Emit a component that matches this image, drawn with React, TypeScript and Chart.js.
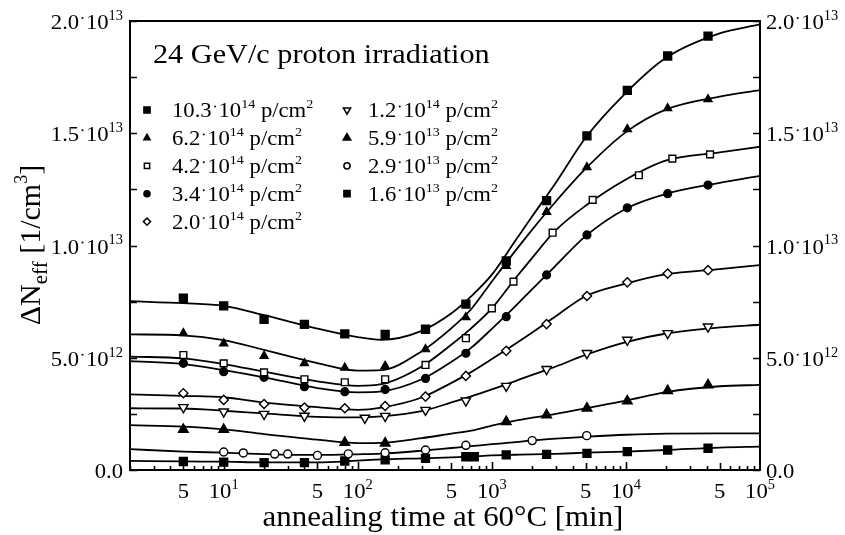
import React, { useEffect, useRef } from 'react';
import { Chart, registerables } from 'chart.js';
import { drawPoint } from 'chart.js/helpers';

Chart.register(...registerables);

// ---------------- data ----------------
// annealing time in minutes, ΔNeff in units of 10^12 cm^-3
const FIT_TIMES = [2, 5, 10, 20, 50, 100, 150, 300, 500, 700, 1000, 1500, 2000, 3000, 5000, 10000, 20000, 50000, 100000];

const FIT_103E14 = [7.52, 7.43, 7.31, 6.9, 6.3, 5.92, 5.8, 6.2, 6.98, 7.73, 8.7, 10.22, 11.3, 12.8, 14.8, 16.8, 18.37, 19.45, 19.85];
const FIT_62E14 = [6.04, 6.0, 5.79, 5.35, 4.76, 4.43, 4.45, 5.29, 6.32, 7.16, 8.4, 9.77, 10.71, 11.96, 13.42, 15.05, 16.06, 16.63, 16.92];
const FIT_42E14 = [5.05, 4.97, 4.72, 4.38, 3.95, 3.75, 3.82, 4.61, 5.59, 6.31, 7.2, 8.54, 9.45, 10.68, 11.77, 12.94, 13.79, 14.15, 14.4];
const FIT_34E14 = [4.85, 4.72, 4.45, 4.13, 3.65, 3.46, 3.5, 4.04, 4.82, 5.44, 6.29, 7.3, 8.06, 9.11, 10.42, 11.64, 12.3, 12.79, 13.1];
const FIT_20E14 = [3.37, 3.3, 3.24, 3.0, 2.8, 2.68, 2.78, 3.23, 3.88, 4.36, 4.94, 5.62, 6.12, 6.85, 7.74, 8.3, 8.72, 8.95, 9.13];
const FIT_12E14 = [2.75, 2.74, 2.64, 2.52, 2.37, 2.34, 2.39, 2.62, 3.01, 3.28, 3.59, 3.96, 4.24, 4.61, 5.13, 5.7, 6.08, 6.35, 6.47];
const FIT_59E13 = [2.0, 1.93, 1.81, 1.6, 1.35, 1.2, 1.21, 1.42, 1.62, 1.75, 1.98, 2.2, 2.33, 2.5, 2.75, 3.09, 3.47, 3.73, 3.79];
const FIT_29E13 = [0.93, 0.82, 0.77, 0.71, 0.67, 0.7, 0.73, 0.86, 0.98, 1.06, 1.15, 1.24, 1.32, 1.4, 1.48, 1.57, 1.62, 1.63, 1.63];
const FIT_16E13 = [0.41, 0.38, 0.37, 0.34, 0.34, 0.42, 0.47, 0.52, 0.56, 0.6, 0.65, 0.68, 0.7, 0.72, 0.77, 0.82, 0.89, 1.0, 1.04];

const T_STD = [5, 10, 20, 40, 80, 160, 320, 640, 1280, 2560, 5120, 10240, 20480, 40960];
const PTS_103E14 = [7.65, 7.31, 6.71, 6.49, 6.06, 6.04, 6.27, 7.39, 9.31, 12.0, 14.88, 16.91, 18.44, 19.33];
const PTS_62E14 = [6.09, 5.64, 5.08, 4.75, 4.56, 4.63, 5.38, 6.8, 9.09, 11.49, 13.48, 15.18, 16.11, 16.51];
const T_42E14 = [5, 10, 20, 40, 80, 160, 320, 640, 1000, 1450, 2840, 5650, 12500, 22200, 42400];
const PTS_42E14 = [5.12, 4.75, 4.35, 4.04, 3.91, 4.04, 4.68, 5.87, 7.2, 8.39, 10.57, 12.03, 13.13, 13.87, 14.06];
const PTS_34E14 = [4.75, 4.38, 4.13, 3.71, 3.49, 3.59, 4.08, 5.2, 6.83, 8.69, 10.47, 11.68, 12.31, 12.69];
const PTS_20E14 = [3.42, 3.12, 2.94, 2.78, 2.75, 2.85, 3.27, 4.19, 5.31, 6.5, 7.75, 8.36, 8.75, 8.9];
const T_12E14 = [5, 10, 20, 40, 113, 160, 320, 640, 1280, 2560, 5120, 10240, 20480, 40960];
const PTS_12E14 = [2.79, 2.6, 2.49, 2.41, 2.32, 2.4, 2.67, 3.09, 3.74, 4.49, 5.2, 5.79, 6.09, 6.38];
const T_59E13 = [5, 10, 80, 160, 1280, 2560, 5120, 10240, 20480, 40960];
const PTS_59E13 = [1.8, 1.8, 1.22, 1.19, 2.15, 2.45, 2.75, 3.07, 3.53, 3.79];
const T_29E13 = [10, 14, 24, 30, 50, 85, 160, 320, 640, 2000, 5100];
const PTS_29E13 = [0.8, 0.76, 0.71, 0.71, 0.65, 0.72, 0.77, 0.89, 1.1, 1.31, 1.53];
const T_16E13 = [5, 10, 20, 40, 80, 160, 320, 640, 740, 1280, 2560, 5120, 10240, 20480, 40960];
const PTS_16E13 = [0.38, 0.35, 0.33, 0.33, 0.4, 0.45, 0.52, 0.59, 0.59, 0.67, 0.7, 0.74, 0.82, 0.89, 0.97];

const LEGEND_LABELS = [
  '10.3·10¹⁴ p/cm²',
  '6.2·10¹⁴ p/cm²',
  '4.2·10¹⁴ p/cm²',
  '3.4·10¹⁴ p/cm²',
  '2.0·10¹⁴ p/cm²',
  '1.2·10¹⁴ p/cm²',
  '5.9·10¹³ p/cm²',
  '2.9·10¹³ p/cm²',
  '1.6·10¹³ p/cm²',
];

const Y_TICK_VALUES = [0, 5, 10, 15, 20];
const Y_TICK_LABELS = ['0.0', '5.0·10¹²', '1.0·10¹³', '1.5·10¹³', '2.0·10¹³'];
const Y_MINOR_VALUES = [2.5, 7.5, 12.5, 17.5];
const X_LABEL_VALUES = [5, 10, 50, 100, 500, 1000, 5000, 10000, 50000, 100000];
const X_LABELS = ['5', '10¹', '5', '10²', '5', '10³', '5', '10⁴', '5', '10⁵'];

const ANNOTATION = '24 GeV/c proton irradiation';
const X_TITLE = 'annealing time at 60°C [min]';

// ---------------- styling ----------------
const SERIF = '"Liberation Serif", "Times New Roman", Times, serif';

const SERIES = [
  { t: T_STD, v: PTS_103E14, fit: FIT_103E14, style: 'rect', rot: 0, r: 5.6, filled: true },
  { t: T_STD, v: PTS_62E14, fit: FIT_62E14, style: 'triangle', rot: 0, r: 4.6, filled: true },
  { t: T_42E14, v: PTS_42E14, fit: FIT_42E14, style: 'rect', rot: 0, r: 4.8, filled: false },
  { t: T_STD, v: PTS_34E14, fit: FIT_34E14, style: 'circle', rot: 0, r: 3.9, filled: true },
  { t: T_STD, v: PTS_20E14, fit: FIT_20E14, style: 'rectRot', rot: 0, r: 4.6, filled: false },
  { t: T_12E14, v: PTS_12E14, fit: FIT_12E14, style: 'triangle', rot: 180, r: 5.4, filled: false },
  { t: T_59E13, v: PTS_59E13, fit: FIT_59E13, style: 'triangle', rot: 0, r: 5.6, filled: true },
  { t: T_29E13, v: PTS_29E13, fit: FIT_29E13, style: 'circle', rot: 0, r: 4.0, filled: false },
  { t: T_16E13, v: PTS_16E13, fit: FIT_16E13, style: 'rect', rot: 0, r: 5.6, filled: true },
];

const SUP_DIGITS: Record<string, string> = {
  '⁰': '0', '¹': '1', '²': '2', '³': '3', '⁴': '4', '⁵': '5', '⁶': '6', '⁷': '7', '⁸': '8', '⁹': '9',
};

// k: 0 normal, 1 superscript, -1 subscript, 2 raised dot
type Run = { t: string; k: number };

function toRuns(s: string): Run[] {
  const runs: Run[] = [];
  for (const ch of s) {
    let k = 0;
    let c = ch;
    if (SUP_DIGITS[ch]) {
      k = 1;
      c = SUP_DIGITS[ch];
    } else if (ch === '·') {
      k = 2;
    }
    const last = runs[runs.length - 1];
    if (last && last.k === k && k !== 2) last.t += c;
    else runs.push({ t: c, k });
  }
  return runs;
}

function drawRich(
  ctx: CanvasRenderingContext2D,
  runs: Run[],
  x: number,
  y: number,
  size: number,
  align: 'left' | 'right' | 'center',
  sx = 1,
  supScale = 0.6,
) {
  const font = (k: number) => {
    const s = k === 0 ? size : k === -1 ? Math.round(size * 0.7) : Math.round(size * supScale);
    return `${s}px ${SERIF}`;
  };
  const widths = runs.map((r) => {
    if (r.k === 2) return size * 0.3;
    ctx.font = font(r.k);
    return ctx.measureText(r.t).width;
  });
  const total = widths.reduce((a, b) => a + b, 0) * sx;
  const start = align === 'left' ? x : align === 'right' ? x - total : x - total / 2;
  ctx.save();
  ctx.translate(start, y);
  ctx.scale(sx, 1);
  ctx.textBaseline = 'alphabetic';
  let cx = 0;
  runs.forEach((r, i) => {
    if (r.k === 2) {
      ctx.beginPath();
      ctx.arc(cx + widths[i] / 2, -size * 0.5, Math.max(0.9, size * 0.045), 0, Math.PI * 2);
      ctx.fill();
    } else {
      ctx.font = font(r.k);
      ctx.textAlign = 'left';
      const dy = r.k === 1 ? -size * 0.42 : r.k === -1 ? size * 0.22 : 0;
      ctx.fillText(r.t, cx, dy);
    }
    cx += widths[i];
  });
  ctx.restore();
}

const decorPlugin = {
  id: 'decor',
  afterDraw(chart: any) {
    const { ctx, chartArea } = chart;
    const { left, right, top, bottom } = chartArea;
    const xs = chart.scales.x;
    const ys = chart.scales.y;
    ctx.save();
    ctx.fillStyle = '#000';
    ctx.strokeStyle = '#000';

    // frame
    ctx.lineWidth = 2;
    ctx.strokeRect(left, top, right - left, bottom - top);

    // y ticks (inward, both sides)
    ctx.lineWidth = 1.6;
    [...Y_TICK_VALUES, ...Y_MINOR_VALUES].forEach((v) => {
      const py = Math.round(ys.getPixelForValue(v)) + 0.5;
      ctx.beginPath();
      ctx.moveTo(left, py);
      ctx.lineTo(left + 7, py);
      ctx.moveTo(right, py);
      ctx.lineTo(right - 7, py);
      ctx.stroke();
    });

    // x ticks (inward)
    for (let dec = 1; dec <= 10000; dec *= 10) {
      for (let m = 1; m <= 9; m++) {
        const t = m * dec;
        if (t < 2 || t > 100000) continue;
        const px = Math.round(xs.getPixelForValue(t)) + 0.5;
        const len = m === 1 ? 8 : m === 5 ? 7 : 4;
        ctx.beginPath();
        ctx.moveTo(px, bottom);
        ctx.lineTo(px, bottom - len);
        ctx.stroke();
      }
    }

    // y tick labels
    Y_TICK_VALUES.forEach((v, i) => {
      const py = ys.getPixelForValue(v);
      const runs = toRuns(Y_TICK_LABELS[i]);
      drawRich(ctx, runs, left - 7, py + 8, 22, 'right', 1.03, 0.64);
      drawRich(ctx, runs, right + 6, py + 8, 22, 'left', 1.03, 0.64);
    });

    // x tick labels
    X_LABEL_VALUES.forEach((v, i) => {
      const px = xs.getPixelForValue(v);
      drawRich(ctx, toRuns(X_LABELS[i]), px, bottom + 28, 22, 'center', 1.03, 0.64);
    });

    // x title
    drawRich(ctx, toRuns(X_TITLE), (left + right) / 2 - 2, 526, 30, 'center', 1.03);

    // y title (rotated)
    ctx.save();
    ctx.translate(40, 245);
    ctx.rotate(-Math.PI / 2);
    drawRich(
      ctx,
      [
        { t: 'ΔN', k: 0 },
        { t: 'eff', k: -1 },
        { t: ' [1/cm', k: 0 },
        { t: '3', k: 1 },
        { t: ']', k: 0 },
      ],
      0,
      0,
      30,
      'center',
    );
    ctx.restore();

    // annotation
    drawRich(ctx, toRuns(ANNOTATION), left + 23, top + 42, 28, 'left', 1.08);

    // legend
    const rowH = 27.9;
    SERIES.forEach((s, i) => {
      const col = i < 5 ? 0 : 1;
      const row = i < 5 ? i : i - 5;
      const base = top + 96 + row * rowH;
      const mx = left + (col === 0 ? 17 : 217);
      const tx = left + (col === 0 ? 42 : 238);
      ctx.save();
      ctx.fillStyle = s.filled ? '#000' : '#fff';
      ctx.strokeStyle = '#000';
      ctx.lineWidth = 1.5;
      drawPoint(
        ctx,
        { pointStyle: s.style, rotation: s.rot, radius: s.r * 0.78, borderWidth: 1.5 } as any,
        mx,
        base - 7,
      );
      ctx.restore();
      drawRich(ctx, toRuns(LEGEND_LABELS[i]), tx, base, 21, 'left', 1.08);
    });

    ctx.restore();
  },
};

export default function App() {
  const canvasRef = useRef<HTMLCanvasElement | null>(null);

  useEffect(() => {
    const canvas = canvasRef.current;
    if (!canvas) return;

    const datasets: any[] = [];
    SERIES.forEach((s) => {
      datasets.push({
        data: s.t.map((t, i) => ({ x: t, y: s.v[i] })),
        showLine: false,
        pointStyle: s.style,
        pointRotation: s.rot,
        pointRadius: s.r,
        pointBackgroundColor: s.filled ? '#000' : '#fff',
        pointBorderColor: '#000',
        pointBorderWidth: 1.4,
        order: 0,
      });
    });
    SERIES.forEach((s) => {
      datasets.push({
        data: FIT_TIMES.map((t, i) => ({ x: t, y: s.fit[i] })),
        showLine: true,
        borderColor: '#000',
        borderWidth: 1.8,
        pointRadius: 0,
        cubicInterpolationMode: 'monotone',
        fill: false,
        order: 1,
      });
    });

    const hide = {
      grid: { display: false, drawTicks: false },
      border: { display: false },
      ticks: { display: false },
    };

    const chart = new Chart(canvas, {
      type: 'line',
      data: { datasets },
      options: {
        responsive: false,
        animation: false,
        devicePixelRatio: 1,
        events: [],
        layout: { padding: { top: 21, left: 0, right: 0, bottom: 0 } },
        plugins: { legend: { display: false }, tooltip: { enabled: false } },
        scales: {
          x: {
            type: 'logarithmic',
            position: 'bottom',
            min: 2,
            max: 100000,
            ...hide,
            afterFit: (s: any) => {
              s.height = 65;
            },
          },
          y: {
            type: 'linear',
            position: 'left',
            min: 0,
            max: 20,
            ...hide,
            afterFit: (s: any) => {
              s.width = 130;
            },
          },
          y2: {
            type: 'linear',
            position: 'right',
            min: 0,
            max: 20,
            ...hide,
            afterFit: (s: any) => {
              s.width = 85;
            },
          },
        },
      } as any,
      plugins: [decorPlugin],
    });

    return () => chart.destroy();
  }, []);

  return (
    <div style={{ position: 'absolute', left: 0, top: 0, width: 845, height: 535, background: '#fff' }}>
      <canvas ref={canvasRef} width={845} height={535} style={{ display: 'block' }} />
    </div>
  );
}
